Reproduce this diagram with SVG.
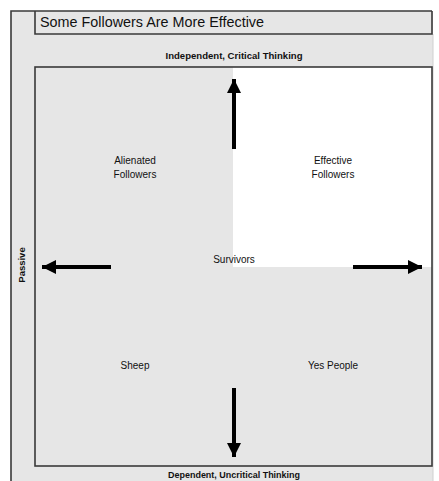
<svg xmlns="http://www.w3.org/2000/svg" width="439" height="481" viewBox="0 0 439 481">
  <style>
    .frame { fill: none; stroke: #3a3a3a; stroke-width: 1.6; }
    .title { font-family: "Liberation Sans", Arial, sans-serif; font-size: 14px; fill: #111; }
    .axis { font-family: "Liberation Sans", Arial, sans-serif; font-size: 9.5px; font-weight: bold; fill: #111; }
    .label { font-family: "Liberation Sans", Arial, sans-serif; font-size: 10px; fill: #111; text-anchor: middle; }
    .arrow { stroke: #000; stroke-width: 4; fill: none; marker-end: url(#head); }
  </style>
  <defs>
    <marker id="head" markerUnits="userSpaceOnUse" markerWidth="16" markerHeight="14" refX="14" refY="7" orient="auto">
      <path d="M0,0 L14,7 L0,14 Z" fill="#000"/>
    </marker>
  </defs>

  <!-- page background -->
  <rect x="0" y="0" width="439" height="481" fill="#ffffff"/>
  <rect x="11" y="11" width="422" height="470" fill="#e6e6e6"/>
  <line x1="433" y1="34" x2="433" y2="481" stroke="#d0d0d0" stroke-width="1"/>

  <!-- outer frame -->
  <path class="frame" d="M11,481 V11 H432" stroke-width="2"/>

  <!-- title bar -->
  <g id="title">
    <path class="frame" d="M35,11 V34 H432 V11"/>
    <text class="title" x="40" y="27" textLength="224" lengthAdjust="spacingAndGlyphs">Some Followers Are More Effective</text>
  </g>

  <!-- axis captions -->
  <g id="axis-top">
    <text class="axis" x="234" y="59" text-anchor="middle" textLength="137" lengthAdjust="spacingAndGlyphs">Independent, Critical Thinking</text>
  </g>
  <g id="axis-bottom">
    <text class="axis" x="234" y="478" text-anchor="middle" textLength="132" lengthAdjust="spacingAndGlyphs">Dependent, Uncritical Thinking</text>
  </g>
  <g id="axis-left">
    <text class="axis" x="0" y="0" text-anchor="middle" transform="translate(25,265) rotate(-90)">Passive</text>
  </g>

  <!-- quadrant grid -->
  <g id="grid">
    <rect x="35" y="67" width="397" height="399" fill="#e6e6e6"/>
    <rect x="233" y="67" width="199" height="200" fill="#ffffff"/>
    <rect class="frame" x="35" y="67" width="397" height="399"/>
  </g>

  <!-- quadrant labels -->
  <g id="alienated">
    <text class="label" x="135" y="164">Alienated</text>
    <text class="label" x="135" y="178">Followers</text>
  </g>
  <g id="effective">
    <text class="label" x="333" y="164">Effective</text>
    <text class="label" x="333" y="178">Followers</text>
  </g>
  <g id="survivors">
    <text class="label" x="234" y="263">Survivors</text>
  </g>
  <g id="sheep">
    <text class="label" x="135" y="369">Sheep</text>
  </g>
  <g id="yes-people">
    <text class="label" x="333" y="369">Yes People</text>
  </g>

  <!-- direction arrows -->
  <g id="connectors">
    <line class="arrow" x1="234" y1="149" x2="234" y2="79"/>
    <line class="arrow" x1="234" y1="388" x2="234" y2="457"/>
    <line class="arrow" x1="111" y1="267" x2="42" y2="267"/>
    <line class="arrow" x1="353" y1="267" x2="422" y2="267"/>
  </g>
</svg>
